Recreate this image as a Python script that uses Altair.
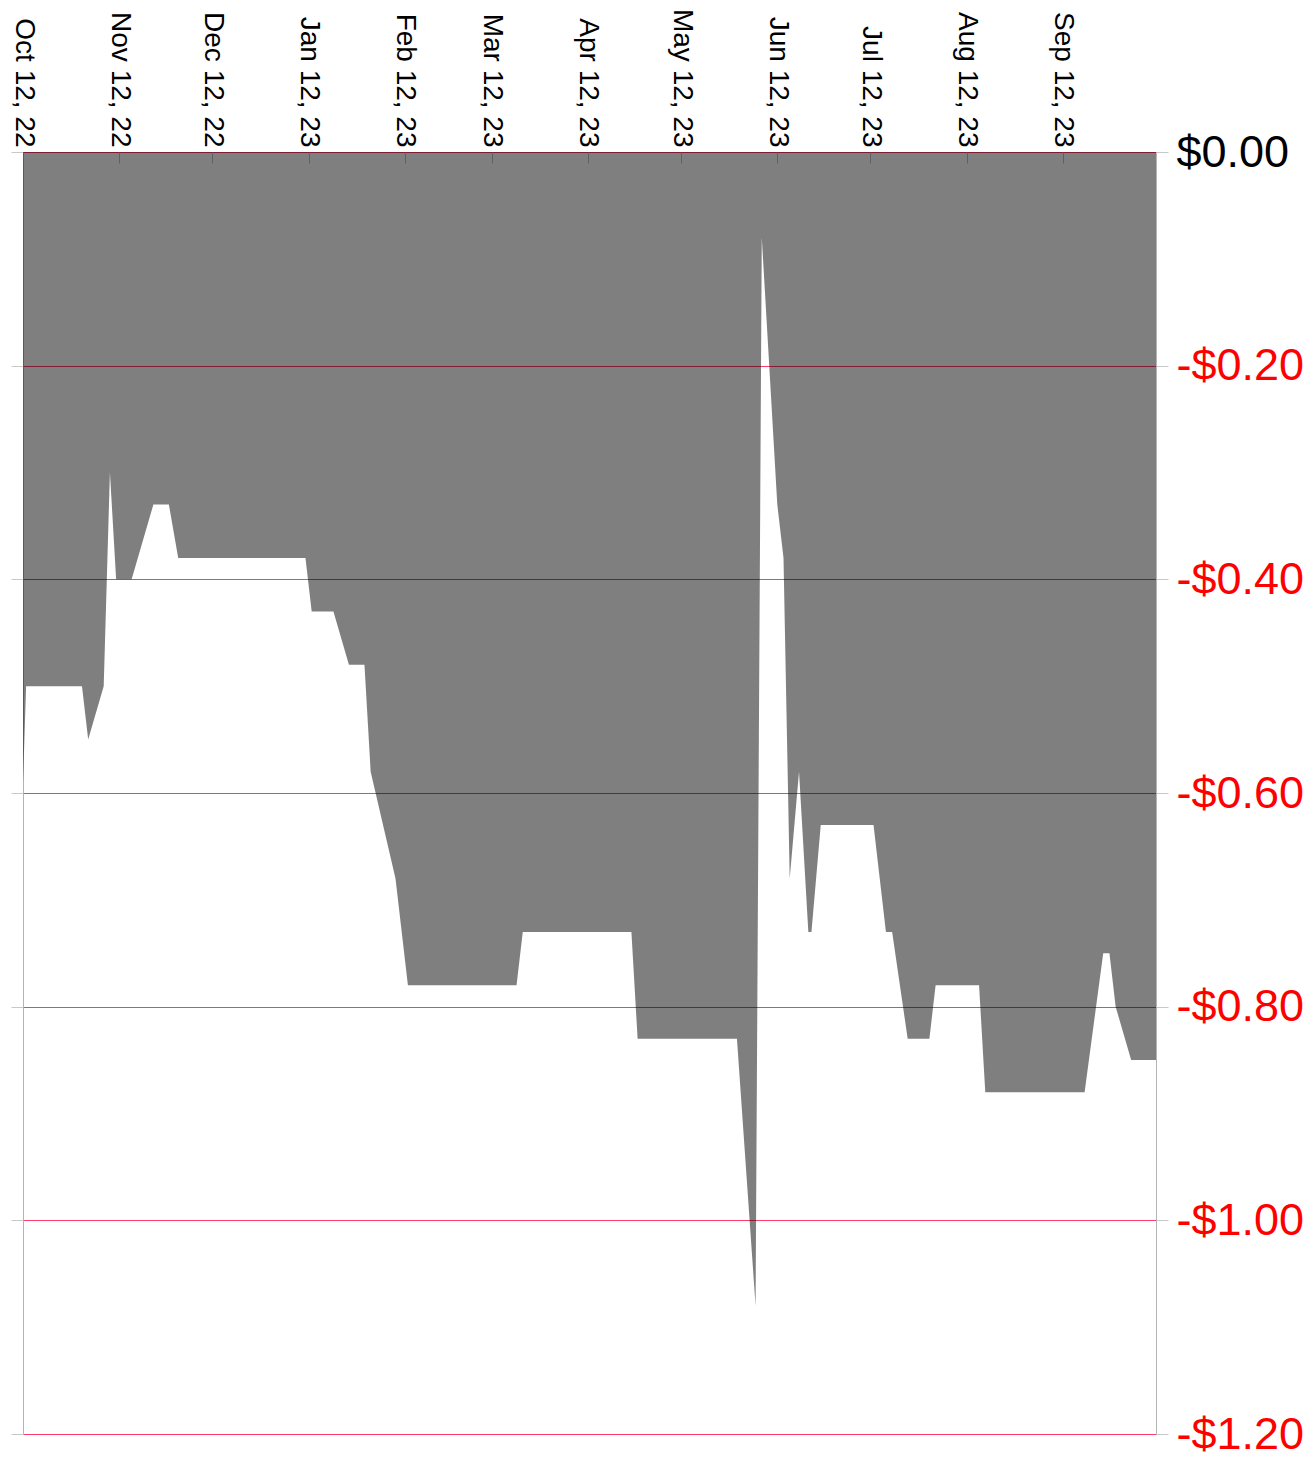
import altair as alt
import pandas as pd

# ---- data ----
dates = [
    "2022-10-12", "2022-10-13", "2022-10-31", "2022-11-02", "2022-11-07",
    "2022-11-09", "2022-11-11", "2022-11-16", "2022-11-23", "2022-11-28",
    "2022-12-01", "2023-01-11", "2023-01-13", "2023-01-20", "2023-01-25",
    "2023-01-30", "2023-02-01", "2023-02-09", "2023-02-13", "2023-03-20",
    "2023-03-22", "2023-04-26", "2023-04-28", "2023-05-30", "2023-06-05",
    "2023-06-07", "2023-06-12", "2023-06-14", "2023-06-16", "2023-06-19",
    "2023-06-22", "2023-06-23", "2023-06-26", "2023-07-13", "2023-07-17",
    "2023-07-19", "2023-07-24", "2023-07-31", "2023-08-02", "2023-08-16",
    "2023-08-18", "2023-09-19", "2023-09-25", "2023-09-27", "2023-09-29",
    "2023-10-04", "2023-10-12",
]
values = [
    -0.59, -0.50, -0.50, -0.55, -0.50,
    -0.30, -0.40, -0.40, -0.33, -0.33,
    -0.38, -0.38, -0.43, -0.43, -0.48,
    -0.48, -0.58, -0.68, -0.78, -0.78,
    -0.73, -0.73, -0.83, -0.83, -1.08,
    -0.08, -0.33, -0.38, -0.68, -0.58,
    -0.73, -0.73, -0.63, -0.63, -0.73,
    -0.73, -0.83, -0.83, -0.78, -0.78,
    -0.88, -0.88, -0.75, -0.75, -0.80,
    -0.85, -0.85,
]
tick_months = [(2022, 10), (2022, 11), (2022, 12), (2023, 1), (2023, 2), (2023, 3),
               (2023, 4), (2023, 5), (2023, 6), (2023, 7), (2023, 8), (2023, 9)]
y_ticks = [0, -0.2, -0.4, -0.6, -0.8, -1.0, -1.2]

df = pd.DataFrame({"date": [d + "T00:00:00" for d in dates], "value": values})

FONT = "Liberation Sans"
W, H = 1133, 1282

x_scale = alt.Scale(domain=[alt.DateTime(year=2022, month=10, date=12),
                            alt.DateTime(year=2023, month=10, date=12)])
y_scale = alt.Scale(domain=[-1.2, 0], nice=False, zero=False)
x_values = [alt.DateTime(year=y, month=m, date=12) for (y, m) in tick_months]

base = alt.Chart(df)

main = base.mark_area(color="black", opacity=0.5, interpolate="linear").encode(
    x=alt.X("date:T", scale=x_scale, title=None,
            axis=alt.Axis(orient="top", values=x_values, format="%b %d, %y",
                          labelAngle=90, labelAlign="right", labelBaseline="middle",
                          labelFont=FONT, labelFontSize=28, labelColor="black",
                          labelPadding=5, ticks=False, domain=False, grid=False,
                          labelOverlap=False, labelFlush=False)),
    y=alt.Y("value:Q", scale=y_scale, title=None,
            axis=alt.Axis(orient="right", values=y_ticks,
                          labelExpr="(datum.value < 0 ? '-' : '') + '$' + format(abs(datum.value), '.2f')",
                          labelColor=alt.condition("datum.value < 0", alt.value("#ff0000"), alt.value("#000000")),
                          labelFont=FONT, labelFontSize=45, labelPadding=8,
                          tickSize=12, tickColor="#c8c8c8", domainColor="#b4b4b4",
                          grid=True, gridColor="#ff3b6b", gridWidth=1, gridOpacity=1,
                          labelOverlap=False, labelFlush=False)),
)

aux = base.mark_area(opacity=0).encode(
    x=alt.X("date:T", scale=x_scale, title=None,
            axis=alt.Axis(orient="bottom", offset=-H, values=x_values, labels=False,
                          domain=False, grid=False, ticks=True, tickSize=11,
                          tickColor="#c0c0c0")),
    y=alt.Y("value:Q", scale=y_scale, title=None,
            axis=alt.Axis(orient="left", values=y_ticks, labels=False, grid=False,
                          tickSize=12, tickColor="#c8c8c8", domainColor="#b4b4b4")),
)

chart = alt.layer(main, aux).resolve_axis(x="independent", y="independent").properties(
    width=W, height=H,
    autosize=alt.AutoSizeParams(type="none"),
    padding={"left": 15, "top": 144, "right": 148, "bottom": 23},
).configure_view(stroke=None).configure(background="white")

chart.save("out.html", embed_options={"renderer": "svg", "actions": False})
